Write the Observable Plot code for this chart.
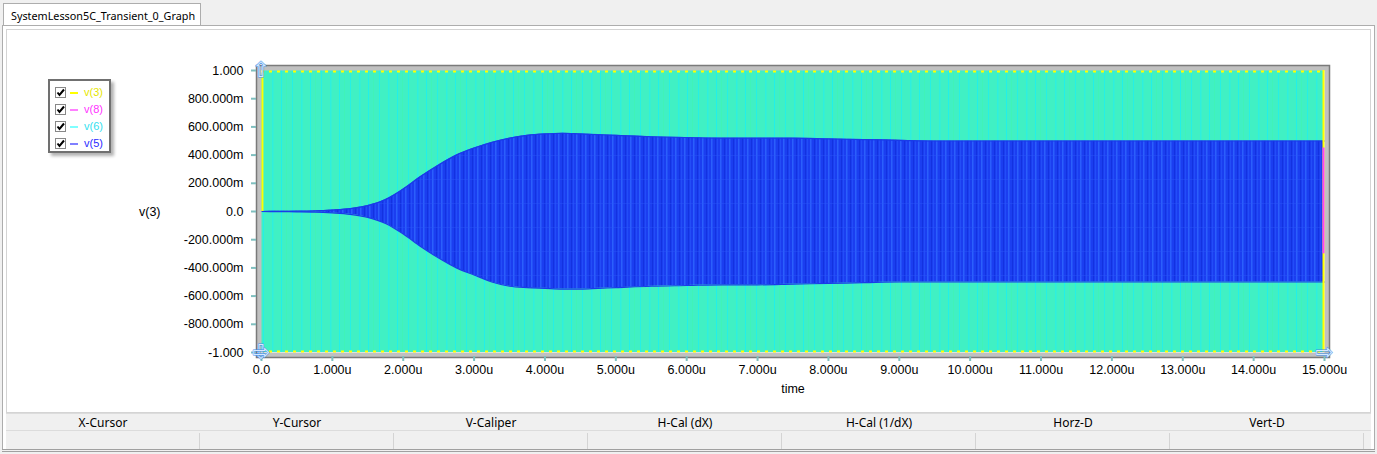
<!DOCTYPE html>
<html><head><meta charset="utf-8">
<script src="https://cdn.jsdelivr.net/npm/d3@7"></script>
<script src="https://cdn.jsdelivr.net/npm/@observablehq/plot@0.6"></script>
<style>
html,body{margin:0;padding:0;}
body{width:1377px;height:454px;background:#f0f0f0;position:relative;overflow:hidden;font-family:"Noto Sans",sans-serif;}
#tab{position:absolute;left:3px;top:3px;width:198px;height:22px;background:#fff;border:1px solid #adadad;border-bottom:none;font-family:"Noto Sans",sans-serif;font-size:10.8px;line-height:23px;padding-left:7px;box-sizing:border-box;color:#000;z-index:3;white-space:nowrap;}
#outer{position:absolute;left:2px;top:25px;width:1373px;height:427px;background:#fff;border:1px solid #adadad;box-sizing:border-box;}
#panel{position:absolute;left:6px;top:29px;width:1365px;height:384px;background:#fff;border:1px solid #d4d4d4;box-sizing:border-box;}
#chart{position:absolute;left:0;top:0;}
#legend{position:absolute;left:48px;top:79px;width:63px;height:74px;background:#fff;border:2px solid #707070;box-sizing:border-box;box-shadow:3px 3px 3px rgba(0,0,0,0.3);font-family:"Liberation Sans",Arial,sans-serif;font-size:11px;}
.li{position:absolute;left:3px;height:14px;}
.cb{position:absolute;left:2px;top:1px;width:9px;height:9px;border:1px solid #888;background:#fff;}
.cb svg{position:absolute;left:0;top:0;}
.ln{position:absolute;left:17px;top:6px;width:8px;height:2px;}
.lt{position:absolute;left:31px;top:0;line-height:13px;}
#table{position:absolute;left:6px;top:413px;width:1365px;height:36px;background:#f0f0f0;border-top:1px solid #dcdcdc;}
.hc{position:absolute;top:0;height:16px;width:194px;text-align:center;font-size:12px;line-height:17px;color:#000;}
#hline{position:absolute;left:0;top:16px;width:1365px;height:1px;background:#dcdcdc;}
.dv{position:absolute;top:19px;width:1px;height:16px;background:#d4d4d4;}
#bot{position:absolute;left:2px;top:449px;width:1373px;height:3px;border-top:1px solid #a0a0a0;border-bottom:1px solid #a0a0a0;box-sizing:border-box;background:#f0f0f0;}
</style></head><body>
<div id="outer"></div>
<div id="tab">SystemLesson5C_Transient_0_Graph</div>
<div id="panel"></div>
<div id="chart"></div>
<div id="legend"></div>
<div id="table"><div id="hline"></div></div>
<div id="bot"></div>
<script>
// ---- data ----
const timeUs = [0,0.25,0.5,0.75,1,1.25,1.5,1.75,2,2.25,2.5,2.75,3,3.25,3.5,3.75,4,4.25,4.5,4.75,5,5.5,6,6.5,7,7.5,8,8.5,9,9.5,10,10.5,11,11.5,12,12.5,13,13.5,14,14.5,15];
const v5Upper = [0,0.001,0.002,0.004,0.01,0.02,0.042,0.085,0.16,0.25,0.33,0.4,0.45,0.49,0.52,0.54,0.55,0.555,0.55,0.545,0.54,0.53,0.525,0.52,0.52,0.52,0.515,0.51,0.505,0.5,0.5,0.5,0.5,0.5,0.5,0.5,0.5,0.5,0.5,0.5,0.5];
const v5Lower = [0,-0.001,-0.002,-0.004,-0.01,-0.02,-0.042,-0.085,-0.16,-0.25,-0.33,-0.4,-0.45,-0.5,-0.53,-0.54,-0.545,-0.55,-0.55,-0.545,-0.54,-0.53,-0.525,-0.52,-0.52,-0.515,-0.51,-0.505,-0.5,-0.5,-0.5,-0.5,-0.5,-0.5,-0.5,-0.5,-0.5,-0.5,-0.5,-0.5,-0.5];
const v6Times = [0,5,10,15];
const v6Amp = [1,1,1,1];
const v3Levels = [-1,1];
const v3EdgeTimes = [0,15];
const v8End = {t:15, lo:-0.3, hi:0.45};
const cursorMarks = [
  {t:0, v:1, glyph:"⇧", dx:-3, dy:0},
  {t:0, v:-1, glyph:"⇩", dx:-4, dy:-2},
  {t:0, v:-1, glyph:"⇨", dx:7, dy:4},
  {t:15, v:-1, glyph:"⇨", dx:-3, dy:4}
];
const xTicks = [0,1,2,3,4,5,6,7,8,9,10,11,12,13,14,15];
const xTickLabels = ["0.0","1.000u","2.000u","3.000u","4.000u","5.000u","6.000u","7.000u","8.000u","9.000u","10.000u","11.000u","12.000u","13.000u","14.000u","15.000u"];
const yTicks = [-1,-0.8,-0.6,-0.4,-0.2,0,0.2,0.4,0.6,0.8,1];
const yTickLabels = ["-1.000","-800.000m","-600.000m","-400.000m","-200.000m","0.0","200.000m","400.000m","600.000m","800.000m","1.000"];
const seriesNames = ["v(3)","v(8)","v(6)","v(5)"];
const seriesText = ["#e6e600","#ff33ff","#33dfef","#2a2aff"];
const seriesLine = ["#ffff00","#ff80ff","#80ffff","#8080ff"];
const headers = ["X-Cursor","Y-Cursor","V-Caliper","H-Cal (dX)","H-Cal (1/dX)","Horz-D","Vert-D"];

// ---- build tables ----
const v5 = timeUs.map((t,i)=>({t, hi:v5Upper[i], lo:v5Lower[i]}));
const v6 = v6Times.map((t,i)=>({t, hi:v6Amp[i], lo:-v6Amp[i]}));

const plot = Plot.plot({
  width: 1377, height: 410,
  marginLeft: 261, marginRight: 53, marginTop: 70, marginBottom: 58,
  x: {domain:[0,15], axis:null},
  y: {domain:[-1,1], axis:null},
  style: {background:"transparent", fontFamily:"'Liberation Sans', Arial, sans-serif", fontSize:"12.5px", overflow:"visible"},
  marks: [
    Plot.areaY(v6, {x:"t", y1:"lo", y2:"hi", fill:"url(#greenPat)"}),
    Plot.areaY(v5, {x:"t", y1:"lo", y2:"hi", fill:"url(#bluePat)", curve:"monotone-x"}),
    Plot.line(v5, {x:"t", y:"hi", stroke:"#1a3be8", strokeWidth:1.2, curve:"monotone-x"}),
    Plot.line(v5, {x:"t", y:"lo", stroke:"#1a3be8", strokeWidth:1.2, curve:"monotone-x"}),
    Plot.frame({stroke:"#c0c0c0", strokeWidth:5, inset:-2.5}),
    Plot.frame({stroke:"#7a7a7a", strokeWidth:1.5, inset:-5}),
    Plot.ruleY([v3Levels[1]], {stroke:"#ffff00", strokeWidth:2, strokeDasharray:"3,5", dy:1}),
    Plot.ruleY([v3Levels[0]], {stroke:"#ffff00", strokeWidth:2, strokeDasharray:"3,5", dy:-1}),
    Plot.ruleX([v3EdgeTimes[0]], {y1:0, y2:1, stroke:"#ffff00", strokeWidth:2, dx:1}),
    Plot.ruleX([v3EdgeTimes[1]], {y1:-1, y2:1, stroke:"#ffff00", strokeWidth:2, dx:-1}),
    Plot.ruleX([v8End], {x:"t", y1:"lo", y2:"hi", stroke:"#ff40ff", strokeWidth:2, dx:-1}),
    Plot.axisY(yTicks, {tickFormat:d=>yTickLabels[yTicks.indexOf(d)], tickSize:5, tickPadding:8, dx:-5, stroke:"#7fbfbf", strokeWidth:2, fill:"#000", label:null}),
    Plot.axisX(xTicks, {tickFormat:d=>xTickLabels[xTicks.indexOf(d)], tickSize:5, tickPadding:4, dy:4, stroke:"#7fbfbf", strokeWidth:2, fill:"#000", label:null}),
    Plot.text(cursorMarks, {x:"t", y:"v", text:"glyph", dx:d=>d.dx, dy:d=>d.dy, fontSize:21, fontFamily:"'DejaVu Sans'", fill:"#d6e9ff", stroke:"#3f8ee8", strokeWidth:0.9}),
    Plot.text(["v(3)"], {frameAnchor:"left", dx:-101, textAnchor:"end", fill:"#000"}),
    Plot.text(["time"], {frameAnchor:"bottom", dy:40, fill:"#000"})
  ]
});
// texture patterns (style only)
const defs = document.createElementNS("http://www.w3.org/2000/svg","defs");
defs.innerHTML = `
<pattern id="greenPat" patternUnits="userSpaceOnUse" width="29" height="20">
  <rect width="29" height="20" fill="#40f0c4"/>
  <rect x="2" width="1" height="20" fill="#1ef0ee" opacity="0.8"/>
  <rect x="11" width="1.5" height="20" fill="#22eef0" opacity="0.6"/>
  <rect x="20" width="1" height="20" fill="#1ef0ee" opacity="0.9"/>
  <rect x="25" width="1" height="20" fill="#3ff5b0" opacity="0.6"/>
</pattern>
<pattern id="bluePat" patternUnits="userSpaceOnUse" width="9" height="24">
  <rect width="9" height="24" fill="#1b3ef0"/>
  <rect x="0" width="1.5" height="24" fill="#3068ff" opacity="0.8"/>
  <rect x="4" width="1" height="24" fill="#1230dc" opacity="0.8"/>
  <rect x="6" width="1" height="24" fill="#2b5cff" opacity="0.5"/>
  <rect y="11" width="9" height="1" fill="#2a58f8" opacity="0.4"/>
</pattern>`;
plot.insertBefore(defs, plot.firstChild);
document.getElementById("chart").appendChild(plot);

// legend
const lg = document.getElementById("legend");
seriesNames.forEach((n,i)=>{
  const d = document.createElement("div");
  d.className="li"; d.style.top = (5 + i*17) + "px";
  d.innerHTML = `<span class="cb"><svg width="9" height="9"><polyline points="1.5,4.5 3.5,7 8,1.5" fill="none" stroke="#000" stroke-width="2"/></svg></span><span class="ln" style="background:${seriesLine[i]}"></span><span class="lt" style="color:${seriesText[i]}">${n}</span>`;
  lg.appendChild(d);
});
// table
const tb = document.getElementById("table");
headers.forEach((h,i)=>{
  const d = document.createElement("div");
  d.className="hc"; d.style.left = (i*194)+"px"; d.textContent = h;
  tb.appendChild(d);
  const v = document.createElement("div");
  v.className="dv"; v.style.left = ((i+1)*194 - 1)+"px";
  tb.appendChild(v);
});
</script>
</body></html>
